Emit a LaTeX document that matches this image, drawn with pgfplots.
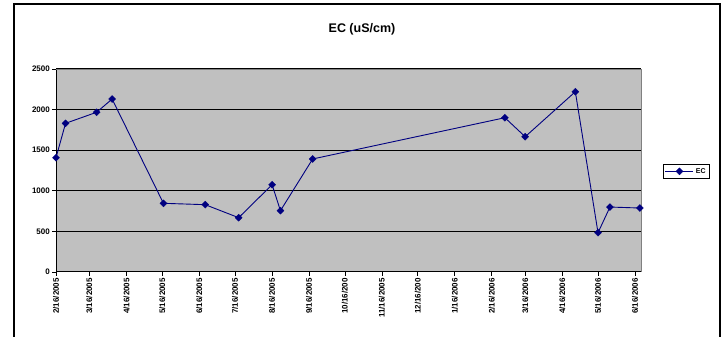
\documentclass[border=0pt]{standalone}
\usepackage{pgfplots}
\pgfplotsset{compat=1.18}
\usepackage{fontspec}
\setmainfont{Liberation Sans}
\definecolor{bggray}{RGB}{192,192,192}
\definecolor{bordergray}{RGB}{128,128,128}
\definecolor{navy}{RGB}{0,0,128}
\begin{document}
\begin{tikzpicture}[x=1pt,y=1pt]
\path[use as bounding box] (0,0) rectangle (723,337);
\draw[line width=1.2pt,black] (14,-2) -- (14,333) -- (720,333) -- (720,-2);
\node[font=\fontsize{12.5}{14}\selectfont\bfseries] at (362,308) {EC (uS/cm)};
\begin{axis}[
  at={(56pt,65pt)}, anchor=south west,
  scale only axis, width=585pt, height=203pt,
  xmin=0, xmax=490, ymin=0, ymax=2500,
  axis lines*=left,
  axis line style={black, line width=1pt},
  axis background/.style={fill=bggray},
  tick align=outside,
  major tick length=4pt,
  tick style={black, line width=0.8pt},
  ytick={0,500,1000,1500,2000,2500},
  xtick={0,28,59,89,120,150,181,212,242,273,303,334,365,393,424,454,485},
  xticklabels={2/16/2005,3/16/2005,4/16/2005,5/16/2005,6/16/2005,7/16/2005,8/16/2005,9/16/2005,10/16/200,11/16/2005,12/16/200,1/16/2006,2/16/2006,3/16/2006,4/16/2006,5/16/2006,6/16/2006},
  x tick label style={rotate=90, anchor=east, font=\fontsize{8}{9}\selectfont\bfseries, inner sep=2pt},
  y tick label style={font=\fontsize{8}{9}\selectfont\bfseries, inner sep=2pt},
  /pgf/number format/assume math mode=true,
  scaled y ticks=false,
  yticklabel style={/pgf/number format/1000 sep={}},
  ymajorgrids,
  grid style={black, line width=1pt},
  legend style={at={(axis description cs:1.0775,0.496)}, anchor=center,
    draw=black, line width=0.6pt, font=\fontsize{7}{8}\selectfont\bfseries,
    inner sep=1.5pt, row sep=0pt},
  legend image code/.code={\draw[mark repeat=2,mark phase=2,#1] plot coordinates {(0pt,0pt) (14pt,0pt) (28pt,0pt)};},
  clip=false,
]
\addplot[color=navy, line width=0.9pt, mark=square*, mark size=2.5pt, mark options={fill=navy, draw=navy, line width=0.3pt, rotate=45}] coordinates {
(0,1407) (8,1831) (34,1967) (47,2130) (90,846) (125,829) (153,669) (181,1075) (188,755) (215,1392) (376,1900) (393,1666) (435,2220) (454,484) (464,800) (489,788)
};
\addlegendentry{EC}
\draw[bordergray, line width=0.9pt] (rel axis cs:0,1) -- (rel axis cs:1,1) -- (rel axis cs:1,0);
\end{axis}
\end{tikzpicture}
\end{document}
